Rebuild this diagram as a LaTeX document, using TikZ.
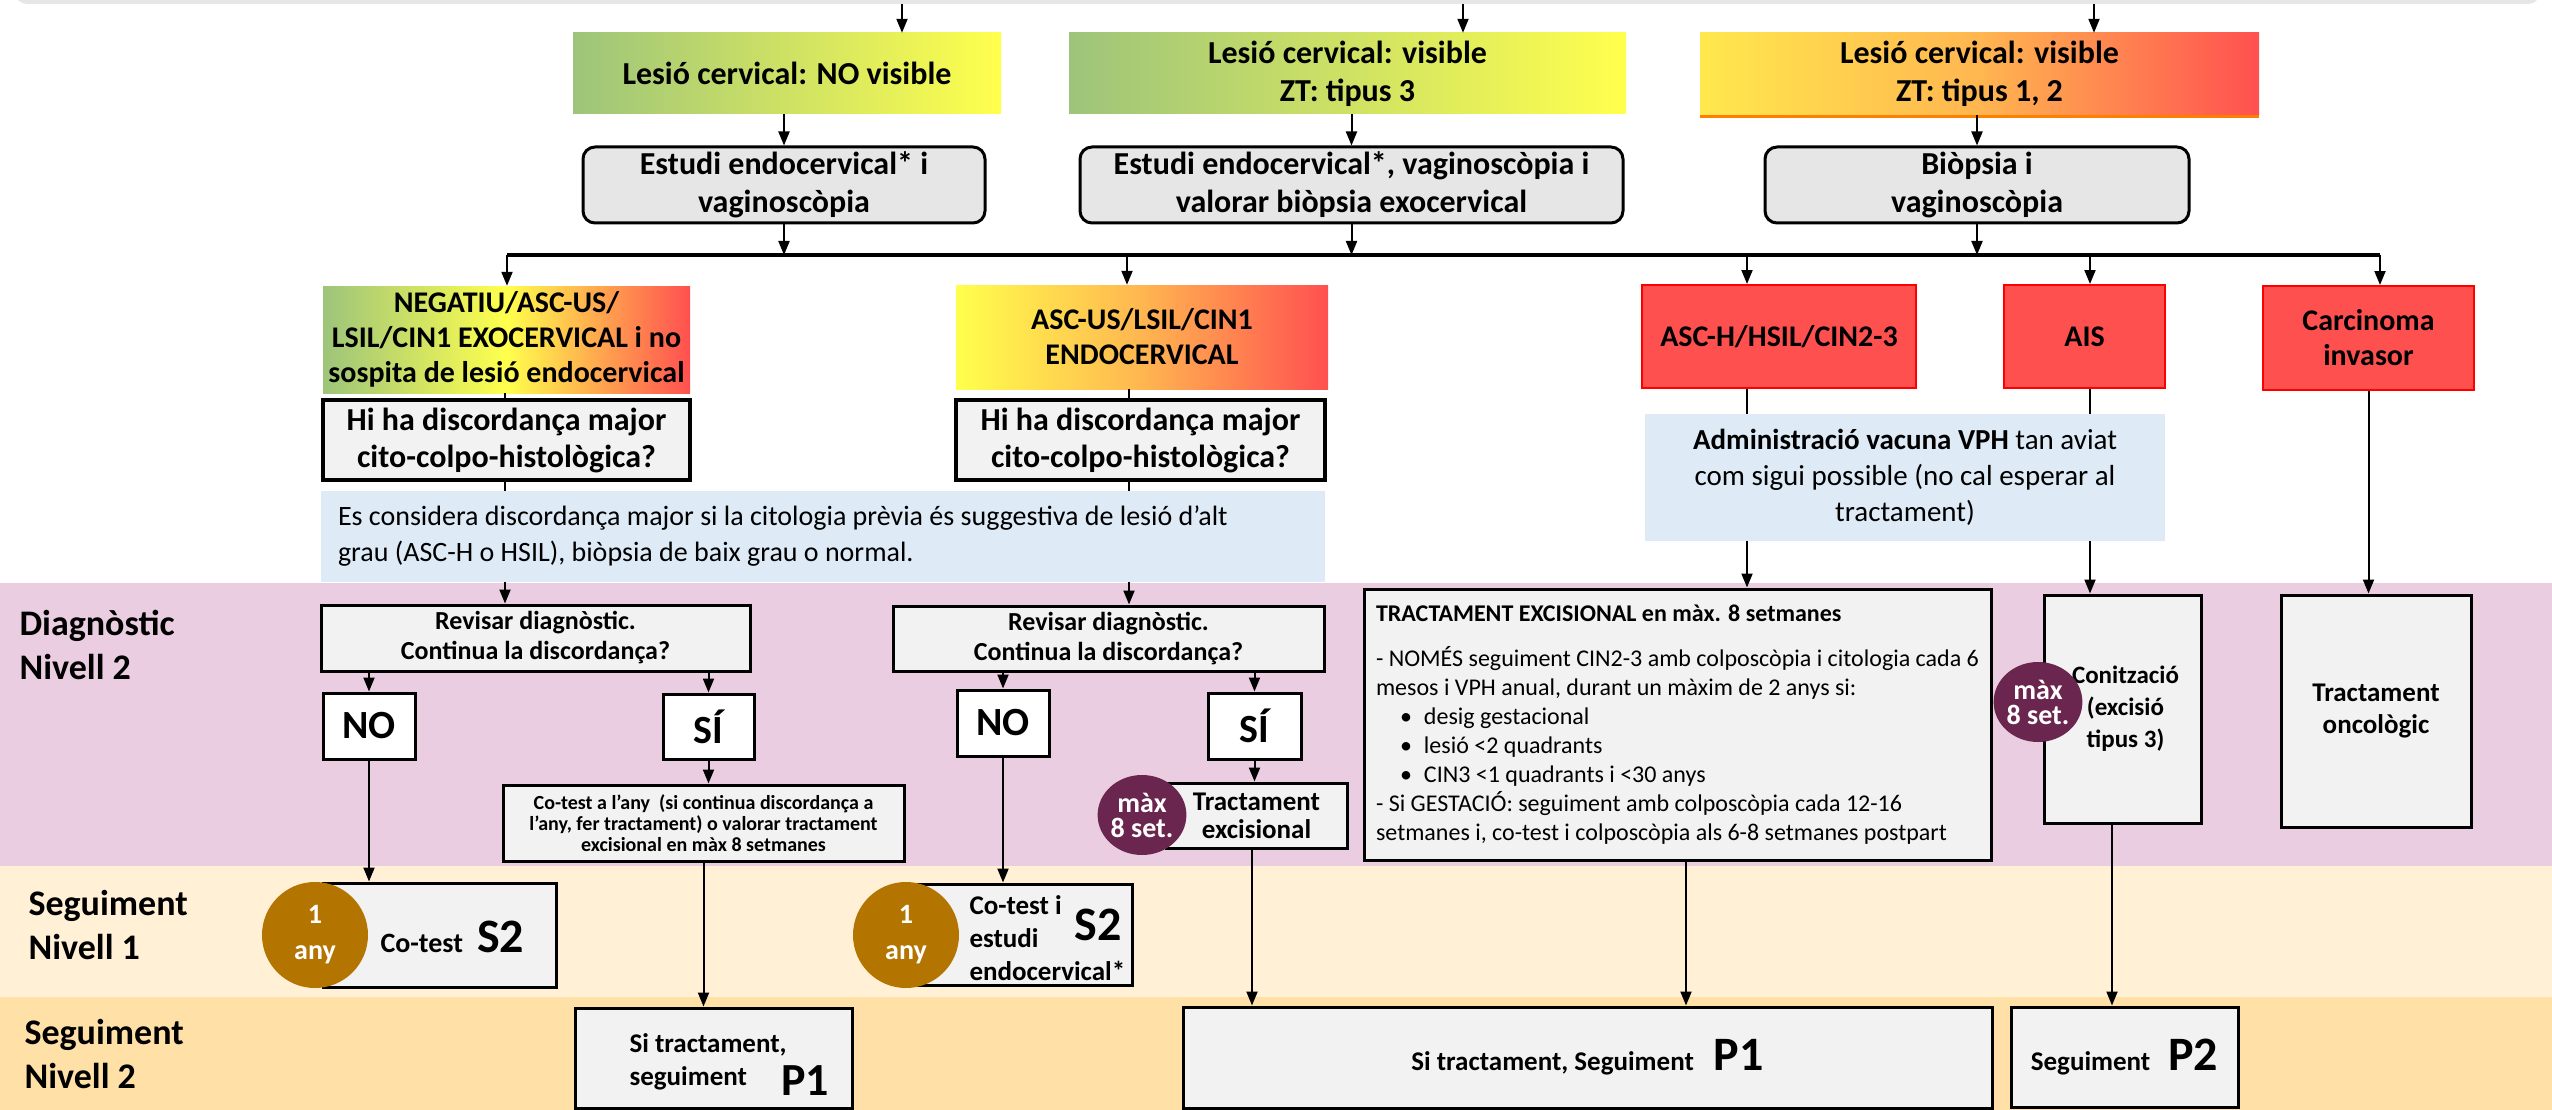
\documentclass[tikz,border=0pt]{standalone}
\usepackage{fontspec}
\setmainfont{Carlito}
\usetikzlibrary{arrows.meta,shapes.geometric,calc}
\newcommand{\myfs}[2]{\fontsize{#1}{#2}\selectfont}
\definecolor{pinkband}{RGB}{235,205,225}
\definecolor{nonebnd}{RGB}{255,240,214}
\definecolor{ntwobnd}{RGB}{255,224,166}
\definecolor{boxgray}{RGB}{242,242,242}
\definecolor{estgray}{RGB}{230,230,230}
\definecolor{bluebox}{RGB}{222,234,246}
\definecolor{redbox}{RGB}{255,80,80}
\definecolor{redline}{RGB}{255,0,0}
\definecolor{grn}{RGB}{157,196,122}
\definecolor{ylw}{RGB}{255,255,77}
\definecolor{ylwtwo}{RGB}{255,232,77}
\definecolor{orng}{RGB}{255,182,80}
\definecolor{goldc}{RGB}{180,117,0}
\definecolor{plum}{RGB}{106,38,78}
\tikzset{
 bx/.style={rectangle, draw=black, line width=3pt, fill=boxgray, inner sep=0pt, align=center, font=\bfseries},
 rbx/.style={bx, fill=estgray, rounded corners=12pt},
 gbx/.style={rectangle, inner sep=0pt, align=center},
 rbox/.style={rectangle, fill=redbox, draw=redline, line width=2pt, inner sep=0pt, align=center},
 blu/.style={rectangle, fill=bluebox, inner sep=0pt, align=center},
 arr/.style={line width=2pt, -{Triangle[length=14pt,width=11pt]}},
 ln/.style={line width=2pt},
 dot/.style={ellipse, inner sep=0pt, text=white, align=center},
 lab/.style={anchor=west, align=left, font=\bfseries\myfs{36}{44}},
}
\begin{document}
\begin{tikzpicture}[x=1pt,y=-1pt]
\useasboundingbox (0,0) rectangle (2552,1110);
\fill[white] (0,0) rectangle (2552,1110);
% bands
\fill[pinkband] (0,583) rectangle (2552,866);
\fill[nonebnd] (0,866) rectangle (2552,997);
\fill[ntwobnd] (0,997) rectangle (2552,1110);

% previous box (cut off)
\node[fill=estgray, rounded corners=12pt, minimum width=2525pt, minimum height=44pt, inner sep=0pt] (prev) at (1277.5,-18) {};

% level 1 boxes
\node[gbx, left color=grn, right color=ylw, minimum width=428pt, minimum height=81pt, font=\bfseries\myfs{32}{38}] (les1) at (787,73.5) {Lesió cervical: NO visible};
\node[gbx, left color=grn, right color=ylw, minimum width=557pt, minimum height=81pt, font=\bfseries\myfs{32}{38}] (les2) at (1347.5,73.5) {Lesió cervical: visible\\ZT: tipus 3};
\node[gbx, left color=ylwtwo, right color=redbox, middle color=orng, minimum width=559pt, minimum height=82pt, font=\bfseries\myfs{32}{38}] (les3) at (1979.5,74) {Lesió cervical: visible\\ZT: tipus 1, 2};
\draw[line width=3pt, draw=orange] ([yshift=-1pt]les3.south west) -- ([yshift=-1pt]les3.south east);

\node[rbx, minimum width=402pt, minimum height=76pt, font=\bfseries\myfs{32}{38}] (est1) at (784,185) {Estudi endocervical* i\\vaginoscòpia};
\node[rbx, minimum width=543pt, minimum height=76pt, font=\bfseries\myfs{32}{38}] (est2) at (1351.5,185) {Estudi endocervical*, vaginoscòpia i\\valorar biòpsia exocervical};
\node[rbx, minimum width=424pt, minimum height=76pt, font=\bfseries\myfs{32}{38}] (bio) at (1977,185) {Biòpsia i\\vaginoscòpia};

% results
\node[gbx, left color=grn, right color=redbox, middle color=ylw, minimum width=367pt, minimum height=107pt, font=\bfseries\myfs{30}{35}] (neg) at (506.5,339.5) {NEGATIU/ASC-US/\\LSIL/CIN1 EXOCERVICAL i no\\sospita de lesió endocervical};
\node[gbx, left color=ylw, right color=redbox, middle color=orng, minimum width=372pt, minimum height=104pt, font=\bfseries\myfs{30}{35}] (ascus) at (1142,337) {ASC-US/LSIL/CIN1\\ENDOCERVICAL};
\node[rbox, minimum width=274pt, minimum height=103pt, font=\bfseries\myfs{30}{35}] (asch) at (1779,336.5) {ASC-H/HSIL/CIN2-3};
\node[rbox, minimum width=161pt, minimum height=103pt, font=\bfseries\myfs{30}{35}] (ais) at (2084.5,336.5) {AIS};
\node[rbox, minimum width=211pt, minimum height=104pt, font=\bfseries\myfs{30}{35}] (car) at (2368.5,338) {Carcinoma\\invasor};

\node[bx, line width=4pt, minimum width=367pt, minimum height=80pt, font=\bfseries\myfs{32}{37}] (hi1) at (506.5,440) {Hi ha discordança major\\cito-colpo-histològica?};
\node[bx, line width=4pt, minimum width=369pt, minimum height=80pt, font=\bfseries\myfs{32}{37}] (hi2) at (1140.5,440) {Hi ha discordança major\\cito-colpo-histològica?};

\node[blu, align=flush left, text width=970pt, inner xsep=17pt, minimum height=91pt, font=\myfs{28}{36}] (blue1) at (823,536.5) {Es considera discordança major si la citologia prèvia és suggestiva de lesió d’alt\\grau (ASC-H o HSIL), biòpsia de baix grau o normal.};
\node[blu, minimum width=520pt, minimum height=127pt, font=\myfs{29}{36}] (blue2) at (1905,477.5) {\textbf{Administració vacuna VPH} tan aviat\\com sigui possible (no cal esperar al\\tractament)};

% diagnostic level 2
\node[bx, minimum width=429pt, minimum height=66pt, font=\bfseries\myfs{26}{30}] (rev1) at (535.5,638) {Revisar diagnòstic.\\Continua la discordança?};
\node[bx, minimum width=431pt, minimum height=65pt, font=\bfseries\myfs{26}{30}] (rev2) at (1108.5,638.5) {Revisar diagnòstic.\\Continua la discordança?};
\node[bx, fill=white, minimum width=92pt, minimum height=66pt, font=\bfseries\myfs{40}{44}] (no1) at (369,726) {NO};
\node[bx, fill=white, minimum width=91pt, minimum height=65pt, font=\bfseries\myfs{40}{44}] (si1) at (708.5,726.5) {SÍ};
\node[bx, fill=white, minimum width=92pt, minimum height=66pt, font=\bfseries\myfs{40}{44}] (no2) at (1003,723) {NO};
\node[bx, fill=white, minimum width=93pt, minimum height=66pt, font=\bfseries\myfs{40}{44}] (si2) at (1254.5,726) {SÍ};
\node[bx, minimum width=401pt, minimum height=76pt, font=\bfseries\myfs{20}{21}] (cot) at (703.5,823) {Co-test a l’any \ (si continua discordança a\\l’any, fer tractament) o valorar tractament\\excisional en màx 8 setmanes};
\node[bx, minimum width=181pt, minimum height=65pt, font=\bfseries\myfs{27}{28}] (texc) at (1256.5,815.5) {Tractament\\excisional};
\node[dot, fill=plum, minimum width=88pt, minimum height=80pt, font=\bfseries\myfs{28}{25}] (m1) at (1142,815) {màx\\8 set.};

\node[bx, align=left, minimum width=627pt, minimum height=271pt, font=\myfs{24}{29}] (tract) at (1677.5,724.5) {\textbf{TRACTAMENT EXCISIONAL en màx. 8 setmanes}\\[16pt]
- NOMÉS seguiment CIN2-3 amb colposcòpia i citologia cada 6\\
mesos i VPH anual, durant un màxim de 2 anys si:\\
\hspace*{24pt}\textbullet\hspace{12pt}desig gestacional\\
\hspace*{24pt}\textbullet\hspace{12pt}lesió <2 quadrants\\
\hspace*{24pt}\textbullet\hspace{12pt}CIN3 <1 quadrants i <30 anys\\
- Si GESTACIÓ: seguiment amb colposcòpia cada 12-16\\
setmanes i, co-test i colposcòpia als 6-8 setmanes postpart};

\node[bx, minimum width=157pt, minimum height=228pt, font=\bfseries\myfs{25}{32}] (coni) at (2122.5,709) {\hspace*{6pt}Conització\\\hspace*{6pt}(excisió\\\hspace*{6pt}tipus 3)};
\node[dot, fill=plum, minimum width=82pt, minimum height=80pt, font=\bfseries\myfs{28}{25}] (m2) at (2038,702) {màx\\8 set.};
\node[bx, minimum width=190pt, minimum height=232pt, font=\bfseries\myfs{27}{32}] (onco) at (2376,711) {Tractament\\oncològic};

% seguiment nivell 1
\node[bx, minimum width=233pt, minimum height=104pt] (s2a) at (439.5,935) {};
\node[dot, fill=goldc, minimum width=106pt, minimum height=106pt, font=\bfseries\myfs{28}{36}] (y1) at (315,935) {1\\any};
\node[anchor=west, font=\bfseries] (s2aT) at (377,937) {{\myfs{28}{34}Co-test}\hspace{14pt}{\myfs{48}{48}S2}};

\node[bx, minimum width=220pt, minimum height=101pt] (s2b) at (1022,934.5) {};
\node[dot, fill=goldc, minimum width=106pt, minimum height=106pt, font=\bfseries\myfs{28}{36}] (y2) at (906,935) {1\\any};
\node[anchor=west, align=left, font=\bfseries\myfs{27}{33}] (s2bT) at (966,938) {Co-test i\\estudi\\endocervical*};
\node[font=\bfseries\myfs{48}{48}] (s2bS) at (1098,925) {S2};

% seguiment nivell 2
\node[bx, minimum width=277pt, minimum height=100pt] (p1a) at (713.5,1058) {};
\node[anchor=west, align=left, font=\bfseries\myfs{27}{33}] (p1aT) at (626,1062) {Si tractament,\\seguiment};
\node[font=\bfseries\myfs{46}{46}] (p1aS) at (805,1081) {P1};
\node[bx, minimum width=809pt, minimum height=101pt] (p1b) at (1587.5,1057.5) {{\myfs{27}{33}Si tractament, Seguiment}\hspace{20pt}{\myfs{48}{48}P1}};
\node[bx, minimum width=227pt, minimum height=100pt] (p2) at (2124.5,1057) {{\myfs{27}{33}Seguiment}\hspace{18pt}{\myfs{48}{48}P2}};

% band labels
\node[lab] (lab1) at (16,645) {Diagnòstic\\Nivell 2};
\node[lab] (lab2) at (25,924.5) {Seguiment\\Nivell 1};
\node[lab] (lab3) at (21,1053.5) {Seguiment\\Nivell 2};

% connectors
\coordinate (t1) at (902,0);
\coordinate (t2) at (1463,0);
\coordinate (t3) at (2094,0);
\draw[arr] (t1 |- prev.south) -- (t1 |- les1.north);
\draw[arr] (t2 |- prev.south) -- (t2 |- les2.north);
\draw[arr] (t3 |- prev.south) -- (t3 |- les3.north);
\draw[arr] (est1.north |- les1.south) -- (est1.north);
\draw[arr] (est2.north |- les2.south) -- (est2.north);
\draw[arr] (bio.north |- les3.south) -- (bio.north);

\coordinate (busL) at (507,255);
\coordinate (bus2) at (1127,255);
\coordinate (bus3) at (1747,255);
\coordinate (bus4) at (2090,255);
\coordinate (busR) at (2380,255);
\draw[line width=3.5pt] (busL) -- (busR);
\draw[arr] (est1.south) -- (est1.south |- busL);
\draw[arr] (est2.south) -- (est2.south |- busL);
\draw[arr] (bio.south) -- (bio.south |- busL);
\draw[arr] (busL) -- (busL |- neg.north);
\draw[arr] (bus2) -- (bus2 |- ascus.north);
\draw[arr] (bus3) -- (bus3 |- asch.north);
\draw[arr] (bus4) -- (bus4 |- ais.north);
\draw[arr] (busR) -- (busR |- car.north);

\coordinate (c1) at (505,0);
\coordinate (c2) at (1129,0);
\draw[ln] (c1 |- neg.south) -- (c1 |- hi1.north);
\draw[ln] (c1 |- hi1.south) -- (c1 |- blue1.north);
\draw[arr] (c1 |- blue1.south) -- (c1 |- rev1.north);
\draw[ln] (c2 |- ascus.south) -- (c2 |- hi2.north);
\draw[ln] (c2 |- hi2.south) -- (c2 |- blue1.north);
\draw[arr] (c2 |- blue1.south) -- (c2 |- rev2.north);

\draw[ln] (bus3 |- asch.south) -- (bus3 |- blue2.north);
\draw[ln] (bus4 |- ais.south) -- (bus4 |- blue2.north);
\draw[arr] (bus3 |- blue2.south) -- (bus3 |- tract.north);
\draw[arr] (bus4 |- blue2.south) -- (bus4 |- coni.north);
\draw[arr] (car.south) -- (car.south |- onco.north);

\draw[arr] (no1.north |- rev1.south) -- (no1.north);
\draw[arr] (si1.north |- rev1.south) -- (si1.north);
\draw[arr] (no2.north |- rev2.south) -- (no2.north);
\draw[arr] (si2.north |- rev2.south) -- (si2.north);
\draw[arr] (si1.south) -- (si1.south |- cot.north);
\draw[arr] (si2.south) -- (si2.south |- texc.north);

\draw[arr] (no1.south) -- (no1.south |- s2a.north);
\draw[arr] (no2.south) -- (no2.south |- s2b.north);
\draw[arr] (cot.south) -- (cot.south |- p1a.north);
\coordinate (c3) at (1252,0);
\coordinate (c4) at (1686,0);
\coordinate (c5) at (2112,0);
\draw[arr] (c3 |- texc.south) -- (c3 |- p1b.north);
\draw[arr] (c4 |- tract.south) -- (c4 |- p1b.north);
\draw[arr] (c5 |- coni.south) -- (c5 |- p2.north);
\end{tikzpicture}
\end{document}
